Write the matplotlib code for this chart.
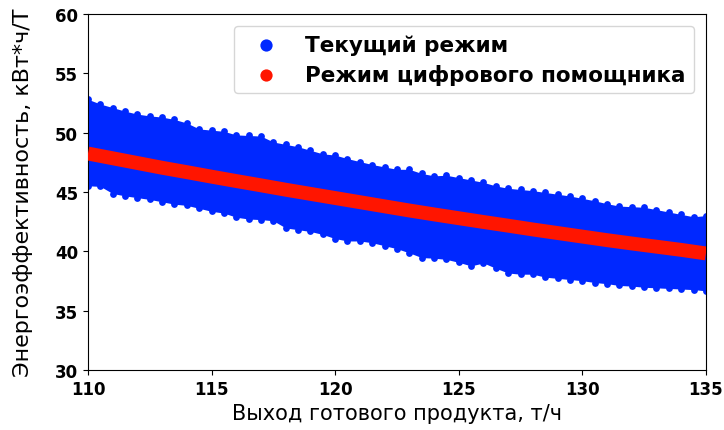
import numpy as np
import matplotlib
matplotlib.use("Agg")
import matplotlib.pyplot as plt

# x grid, t/h (half steps)
x_half = [110, 110.5, 111, 111.5, 112, 112.5, 113, 113.5, 114, 114.5, 115, 115.5,
          116, 116.5, 117, 117.5, 118, 118.5, 119, 119.5, 120, 120.5, 121, 121.5,
          122, 122.5, 123, 123.5, 124, 124.5, 125, 125.5, 126, 126.5, 127, 127.5,
          128, 128.5, 129, 129.5, 130, 130.5, 131, 131.5, 132, 132.5, 133, 133.5,
          134, 134.5, 135]

# current mode: upper / lower envelope of the point cloud, kWh/t
cur_upper = [53.1, 52.7, 52.4, 52.1, 51.85, 51.7, 51.6, 51.4, 51.1, 50.6, 50.5, 50.4,
             50.1, 50.05, 50.0, 49.5, 49.3, 49.1, 48.8, 48.5, 48.4, 48.1, 47.85, 47.6,
             47.4, 47.2, 47.2, 46.85, 46.65, 46.7, 46.5, 46.3, 46.1, 45.8, 45.6, 45.5,
             45.4, 45.25, 45.1, 44.95, 44.75, 44.55, 44.3, 44.1, 44.05, 44.0, 43.8, 43.6,
             43.4, 43.2, 43.3]
cur_lower = [45.25, 45.2, 44.6, 44.4, 44.25, 44.1, 43.9, 43.7, 43.6, 43.35, 43.1, 42.95,
             42.6, 42.45, 42.4, 42.3, 41.7, 41.55, 41.4, 41.15, 40.8, 40.6, 40.6, 40.45,
             40.2, 39.95, 39.6, 39.2, 39.15, 39.05, 38.8, 38.5, 38.75, 38.3, 37.9, 37.8,
             37.8, 37.55, 37.45, 37.35, 37.25, 37.1, 37.0, 36.85, 36.8, 36.7, 36.65, 36.6,
             36.55, 36.5, 36.4]

# digital assistant mode
x_int = [110, 111, 112, 113, 114, 115, 116, 117, 118, 119, 120, 121, 122,
         123, 124, 125, 126, 127, 128, 129, 130, 131, 132, 133, 134, 135]
assist = [48.25, 47.85, 47.45, 47.05, 46.68, 46.3, 45.93, 45.57, 45.2, 44.85, 44.5,
          44.15, 43.8, 43.45, 43.12, 42.8, 42.48, 42.17, 41.85, 41.55, 41.25, 40.95,
          40.67, 40.4, 40.13, 39.83]

blue = "#0028ff"
red = "#ff1500"

fig = plt.figure(figsize=(7.24, 4.31), dpi=100)
ax = fig.add_axes([0.1215, 0.139, 0.8535, 0.826])

# small round markers on the edges -> bumpy outline like the dense scatter
off = 0.28
up_c = np.array(cur_upper) - off
lo_c = np.array(cur_lower) + off
ax.fill_between(x_half, lo_c, up_c, color=blue, lw=0, zorder=2)
ax.scatter(x_half, up_c, s=24, color=blue, lw=0, zorder=2)
ax.scatter(x_half, lo_c, s=24, color=blue, lw=0, zorder=2,
           label="Текущий режим")
ax.plot(x_int, assist, color=red, lw=10, solid_capstyle="butt", zorder=3)
ax.scatter([], [], s=24, color=red, lw=0, label="Режим цифрового помощника")

ax.set_xlim(110, 135)
ax.set_ylim(30, 60)
ax.set_xticks([110, 115, 120, 125, 130, 135])
ax.set_yticks([30, 35, 40, 45, 50, 55, 60])
for lab in ax.get_xticklabels() + ax.get_yticklabels():
    lab.set_fontweight("bold")
    lab.set_fontsize(12)
ax.set_xlabel("Выход готового продукта, т/ч", fontsize=15)
ax.set_ylabel("Энергоэффективность, кВт*ч/Т", fontsize=16)
ax.yaxis.set_label_coords(-0.089, 0.5)

ax.legend(loc="upper right", prop={"weight": "bold", "size": 15.5},
          markerscale=1.8, handlelength=2.2, handletextpad=0.7,
          labelspacing=0.4, borderaxespad=0.55)

fig.savefig("out.png", dpi=100)
